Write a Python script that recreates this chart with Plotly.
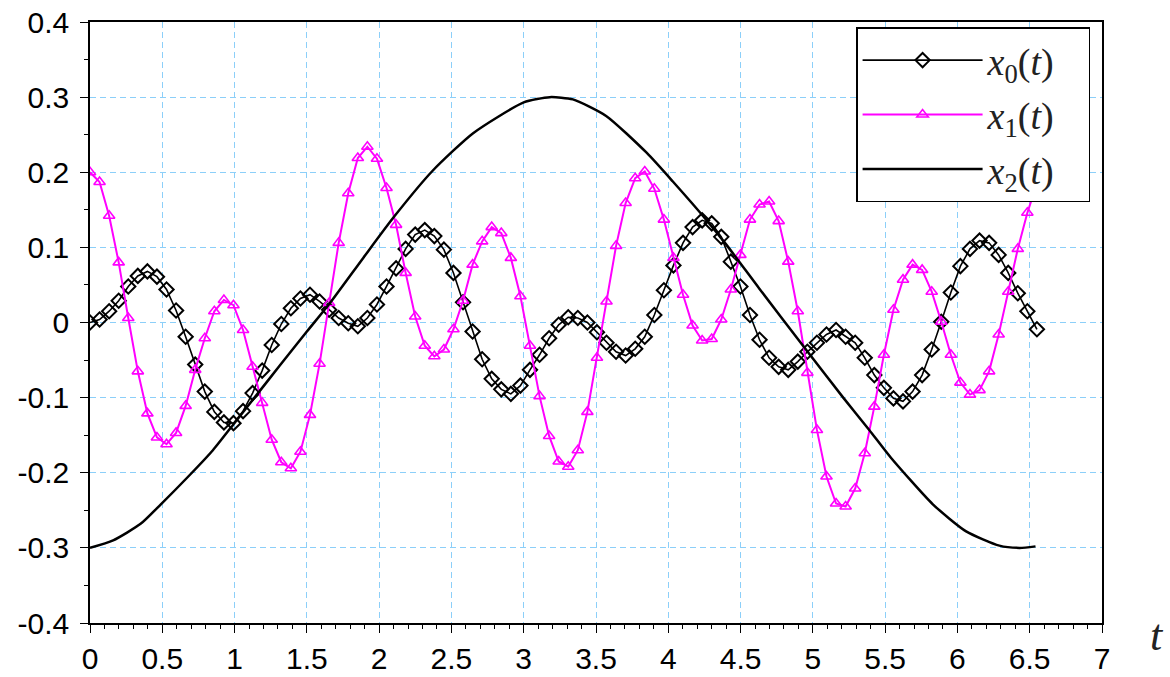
import plotly.graph_objects as go

# sampling grid of the simulation (100 samples from t=0 to t~6.55)
T_STEP = 0.06616
t_samples = [i * T_STEP for i in range(100)]

x0_values = [
    0.000, 0.004, 0.015, 0.029, 0.048, 0.062, 0.068, 0.061, 0.044, 0.016,
    -0.019, -0.056, -0.092, -0.119, -0.133, -0.134, -0.118, -0.094, -0.064, -0.030,
    -0.002, 0.019, 0.032, 0.037, 0.028, 0.017, 0.006, -0.001, -0.005, 0.006,
    0.024, 0.048, 0.072, 0.098, 0.117, 0.123, 0.115, 0.097, 0.066, 0.027,
    -0.012, -0.049, -0.075, -0.089, -0.095, -0.084, -0.063, -0.043, -0.021, -0.003,
    0.007, 0.006, 0.000, -0.013, -0.027, -0.039, -0.044, -0.035, -0.019, 0.010,
    0.043, 0.076, 0.106, 0.127, 0.136, 0.132, 0.114, 0.081, 0.048, 0.010,
    -0.023, -0.047, -0.059, -0.063, -0.052, -0.039, -0.027, -0.016, -0.010, -0.019,
    -0.027, -0.047, -0.070, -0.087, -0.101, -0.105, -0.092, -0.070, -0.036, 0.001,
    0.040, 0.075, 0.098, 0.109, 0.106, 0.090, 0.066, 0.039, 0.015, -0.009,
]

x1_values = [
    0.200, 0.187, 0.142, 0.080, 0.006, -0.065, -0.121, -0.153, -0.162, -0.147,
    -0.111, -0.063, -0.021, 0.015, 0.030, 0.023, -0.010, -0.059, -0.107, -0.156,
    -0.186, -0.194, -0.172, -0.123, -0.055, 0.026, 0.106, 0.172, 0.219, 0.234,
    0.218, 0.179, 0.130, 0.066, 0.008, -0.031, -0.045, -0.036, -0.009, 0.029,
    0.077, 0.108, 0.127, 0.119, 0.086, 0.035, -0.031, -0.098, -0.151, -0.185,
    -0.192, -0.170, -0.119, -0.047, 0.028, 0.102, 0.159, 0.192, 0.201, 0.178,
    0.137, 0.086, 0.037, -0.004, -0.024, -0.022, 0.004, 0.044, 0.090, 0.137,
    0.157, 0.161, 0.135, 0.081, 0.015, -0.067, -0.143, -0.205, -0.241, -0.245,
    -0.221, -0.174, -0.112, -0.043, 0.017, 0.057, 0.077, 0.070, 0.041, 0.001,
    -0.043, -0.080, -0.096, -0.090, -0.065, -0.016, 0.041, 0.098, 0.146, 0.185,
]

x2_t = [0.00, 0.16, 0.35, 0.49, 0.69, 0.85, 0.99, 1.15, 1.31, 1.50, 1.66, 1.89,
        2.10, 2.37, 2.65, 3.00, 3.18, 3.34, 3.57, 3.85, 4.03, 4.27, 4.40, 4.63,
        4.96, 5.21, 5.39, 5.54, 5.83, 6.06, 6.29, 6.43, 6.54]
x2_values = [-0.300, -0.290, -0.268, -0.242, -0.203, -0.170, -0.136, -0.097, -0.058,
             -0.012, 0.026, 0.086, 0.140, 0.202, 0.252, 0.293, 0.300, 0.297, 0.275,
             0.226, 0.188, 0.135, 0.104, 0.045, -0.038, -0.100, -0.143, -0.180,
             -0.242, -0.278, -0.297, -0.300, -0.298]

x_tickvals = [0, 0.5, 1, 1.5, 2, 2.5, 3, 3.5, 4, 4.5, 5, 5.5, 6, 6.5, 7]
x_ticktext = ["0", "0.5", "1", "1.5", "2", "2.5", "3", "3.5", "4", "4.5", "5",
              "5.5", "6", "6.5", "7"]
y_tickvals = [-0.4, -0.3, -0.2, -0.1, 0, 0.1, 0.2, 0.3, 0.4]
y_ticktext = ["-0.4", "-0.3", "-0.2", "-0.1", "0", "0.1", "0.2", "0.3", "0.4"]

series_names = ["<i>x</i><sub>0</sub>(<i>t</i>)\u00a0\u00a0\u00a0",
                "<i>x</i><sub>1</sub>(<i>t</i>)\u00a0\u00a0\u00a0",
                "<i>x</i><sub>2</sub>(<i>t</i>)\u00a0\u00a0\u00a0"]

GRID = "#8ccff9"
MAGENTA = "#ff00ff"
SERIF = "Liberation Serif, Times New Roman, serif"

fig = go.Figure()
fig.add_trace(go.Scatter(
    x=t_samples, y=x0_values, name=series_names[0], legendgroup="a",
    mode="lines+markers",
    line=dict(color="black", width=1.6),
    marker=dict(symbol="diamond-open", size=11, color="black",
                line=dict(width=2, color="black")),
))
fig.add_trace(go.Scatter(
    x=t_samples, y=x1_values, name=series_names[1], legendgroup="b",
    mode="lines+markers",
    line=dict(color=MAGENTA, width=2),
    marker=dict(symbol="triangle-up-open", size=10, color=MAGENTA,
                line=dict(width=1.6, color=MAGENTA)),
))
fig.add_trace(go.Scatter(
    x=x2_t, y=x2_values, name=series_names[2], legendgroup="c",
    mode="lines",
    line=dict(color="black", width=2.5, shape="spline", smoothing=0.6),
))

axis_common = dict(
    showline=True, linecolor="black", linewidth=1.5, mirror=True,
    ticks="outside", tickcolor="black", tickwidth=1.3, ticklen=8,
    showgrid=True, gridcolor=GRID, gridwidth=1, griddash="6px,4px",
    zeroline=False, automargin=False, ticklabeloverflow="allow",
    tickfont=dict(family="Arial, Liberation Sans, sans-serif", size=30, color="black"),
)

fig.update_xaxes(
    range=[0, 7], tickvals=x_tickvals, ticktext=x_ticktext,
    minor=dict(ticks="outside", ticklen=4, dtick=0.1, tickcolor="black",
               tickwidth=1, showgrid=False),
    **axis_common,
)
fig.update_yaxes(
    range=[-0.4, 0.4], tickvals=y_tickvals, ticktext=y_ticktext,
    minor=dict(ticks="outside", ticklen=4, dtick=0.05, tickcolor="black",
               tickwidth=1, showgrid=False),
    ticklabelstandoff=5,
    **axis_common,
)

fig.update_layout(
    width=1170, height=677,
    margin=dict(l=90, r=68, t=22, b=54),
    paper_bgcolor="white", plot_bgcolor="white",
    showlegend=True,
    legend=dict(
        x=0.757, y=0.991, xanchor="left", yanchor="top",
        bgcolor="white", bordercolor="black", borderwidth=1.5,
        font=dict(family=SERIF, size=38, color="#222"),
        itemwidth=120, tracegroupgap=2, traceorder="grouped",
    ),
    annotations=[dict(
        text="<i>t</i>", xref="paper", yref="paper", x=1.045, y=-0.02,
        xanchor="left", yanchor="middle", showarrow=False,
        font=dict(family=SERIF, size=44, color="#222"),
    )],
)

# remove the browser's default 8px page margin so the figure fills the window
fig.write_html(
    "out.html",
    config={"displayModeBar": False},
    post_script="document.body.style.margin='0px';document.body.style.overflow='hidden';",
)
